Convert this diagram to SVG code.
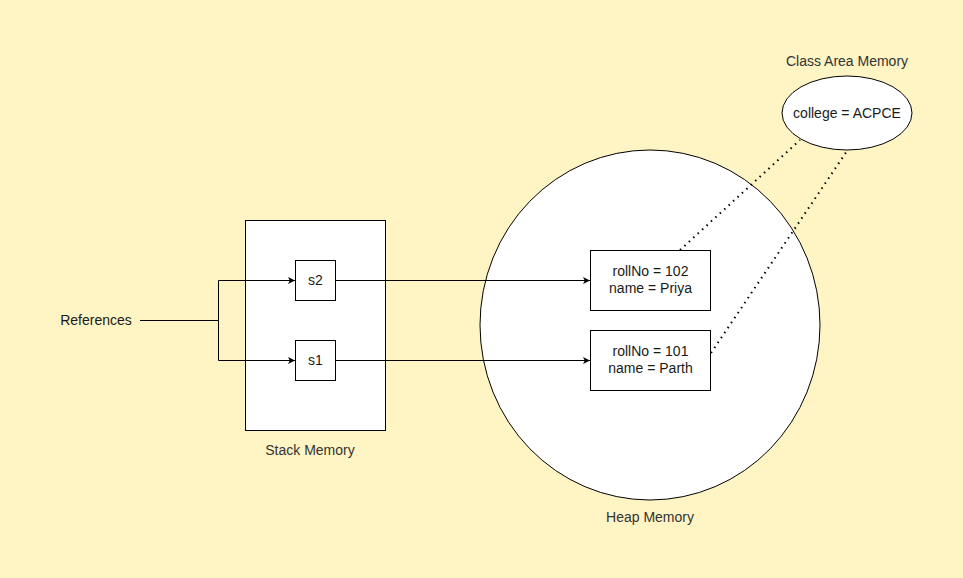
<svg xmlns="http://www.w3.org/2000/svg" width="963" height="578" viewBox="0 0 963 578">
<defs>
<style>
.shape{fill:#ffffff;stroke:#000000;stroke-width:1}
.t{font-family:"Liberation Sans",Arial,sans-serif;font-size:14px;fill:#1a1a1a;text-anchor:middle}
.lbl{font-family:"Liberation Sans",Arial,sans-serif;font-size:14px;fill:#333333;text-anchor:middle}
.edge{fill:none;stroke:#000000;stroke-width:1}
.dot{fill:none;stroke:#000000;stroke-width:2;stroke-dasharray:1.5 4.5}
</style>
<marker id="arr" viewBox="0 0 10 10" refX="10" refY="5" markerWidth="7" markerHeight="7" markerUnits="userSpaceOnUse" orient="auto">
<path d="M0,0 L10,5 L0,10 L2.5,5 Z" fill="#000000"/>
</marker>
</defs>
<rect x="0" y="0" width="963" height="578" fill="#fff4c4"/>
<g id="heap">
<ellipse class="shape" cx="650" cy="325" rx="170" ry="175"/>
<text class="lbl" x="650" y="522">Heap Memory</text>
</g>
<g id="stack">
<rect class="shape" x="245.5" y="220.5" width="140" height="210"/>
<text class="lbl" x="310" y="455">Stack Memory</text>
</g>
<g id="classArea">
<ellipse class="shape" cx="847" cy="113" rx="65" ry="37"/>
<text class="t" x="847" y="118">college = ACPCE</text>
<text class="lbl" x="847" y="66">Class Area Memory</text>
</g>
<g id="references">
<text class="t" x="96" y="325">References</text>
</g>
<g id="s2">
<rect class="shape" x="295.5" y="260.5" width="40" height="40"/>
<text class="t" x="315.5" y="285">s2</text>
</g>
<g id="s1">
<rect class="shape" x="295.5" y="340.5" width="40" height="40"/>
<text class="t" x="315.5" y="365">s1</text>
</g>
<g id="obj102">
<rect class="shape" x="590.5" y="250.5" width="120" height="60"/>
<text class="t" x="650.5" y="276">rollNo = 102</text>
<text class="t" x="650.5" y="293">name = Priya</text>
</g>
<g id="obj101">
<rect class="shape" x="590.5" y="330.5" width="120" height="60"/>
<text class="t" x="650.5" y="356">rollNo = 101</text>
<text class="t" x="650.5" y="373">name = Parth</text>
</g>
<g id="connectors">
<path class="edge" d="M140,320.5 H218.5 V280.5 H295" marker-end="url(#arr)"/>
<path class="edge" d="M218.5,320.5 V360.5 H295" marker-end="url(#arr)"/>
<path class="edge" d="M335.5,280.5 H590" marker-end="url(#arr)"/>
<path class="edge" d="M335.5,360.5 H590" marker-end="url(#arr)"/>
<path class="dot" d="M680,250 L800,140"/>
<path class="dot" d="M711,353 L847,151"/>
</g>
</svg>
